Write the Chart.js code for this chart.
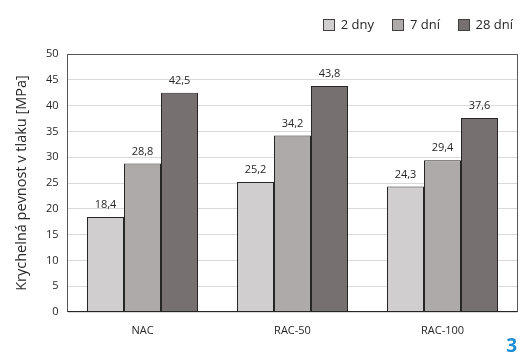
<!DOCTYPE html>
<html>
<head>
<meta charset="utf-8">
<script src="https://cdn.jsdelivr.net/npm/chart.js@4/dist/chart.umd.min.js"></script>
<style>
  html, body { margin: 0; padding: 0; background: #ffffff; }
  #wrap { width: 522px; height: 354px; position: relative; }
</style>
</head>
<body>
<div id="wrap"><canvas id="c" width="522" height="354"></canvas></div>
<script>
// Compressive strength of concrete mixes after 2, 7 and 28 days
const categories = ['NAC', 'RAC-50', 'RAC-100'];
const seriesNames = ['2 dny', '7 dní', '28 dní'];
const strength2d = [18.4, 25.2, 24.3];
const strength7d = [28.8, 34.2, 29.4];
const strength28d = [42.5, 43.8, 37.6];
const yTicks = [0, 5, 10, 15, 20, 25, 30, 35, 40, 45, 50];

const fills = ['#d0cecf', '#aeaaa9', '#767170'];
const FONT = '"Open Sans", sans-serif';
const TEXT = '#262626';

const fmt = v => v.toFixed(1).replace('.', ',');

// frame around the plotting area (left/right already sit on half pixels)
const frame = {
  id: 'frame',
  afterDatasetsDraw(chart) {
    const { ctx, chartArea: a } = chart;
    const top = Math.round(a.top) + 0.5;
    const bottom = Math.round(a.bottom) - 0.5;
    ctx.save();
    ctx.strokeStyle = '#595959';
    ctx.lineWidth = 1;
    ctx.strokeRect(a.left, top, a.right - a.left, bottom - top);
    ctx.strokeStyle = '#262626';
    ctx.beginPath();
    ctx.moveTo(a.left, bottom);
    ctx.lineTo(a.right, bottom);
    ctx.stroke();
    ctx.restore();
  }
};

// value labels above each bar
const valueLabels = {
  id: 'valueLabels',
  afterDatasetsDraw(chart) {
    const { ctx } = chart;
    ctx.save();
    ctx.font = '11px ' + FONT;
    ctx.fillStyle = TEXT;
    ctx.textAlign = 'center';
    ctx.textBaseline = 'middle';
    chart.data.datasets.forEach((ds, i) => {
      chart.getDatasetMeta(i).data.forEach((bar, j) => {
        ctx.fillText(fmt(ds.data[j]), bar.x, bar.y - 12);
      });
    });
    ctx.restore();
  }
};

// series key, laid out right to left in the top margin
const seriesKey = {
  id: 'seriesKey',
  afterDraw(chart) {
    const { ctx } = chart;
    ctx.save();
    ctx.font = '13px ' + FONT;
    ctx.textBaseline = 'middle';
    ctx.textAlign = 'left';
    const box = 12, gapText = 6, gapItem = 18, cy = 25;
    let x = 513;
    const items = chart.data.datasets.map(ds => ({ text: ds.label, fill: ds.backgroundColor }));
    for (let i = items.length - 1; i >= 0; i--) {
      const w = ctx.measureText(items[i].text).width;
      const tx = x - w;
      const bx = Math.round(tx - gapText - box);
      ctx.fillStyle = items[i].fill;
      ctx.fillRect(bx, cy - 6, box, box);
      ctx.strokeStyle = '#404040';
      ctx.lineWidth = 1;
      ctx.strokeRect(bx + 0.5, cy - 5.5, box - 1, box - 1);
      ctx.fillStyle = TEXT;
      ctx.fillText(items[i].text, tx, cy);
      x = bx - gapItem;
    }
    ctx.restore();
  }
};

// page number in the corner
const pageMark = {
  id: 'pageMark',
  afterDraw(chart) {
    const { ctx } = chart;
    ctx.save();
    ctx.font = 'bold 19px ' + FONT;
    ctx.fillStyle = '#1d8ed3';
    ctx.textAlign = 'right';
    ctx.textBaseline = 'alphabetic';
    ctx.fillText('3', 517, 352);
    ctx.restore();
  }
};

new Chart(document.getElementById('c'), {
  type: 'bar',
  data: {
    labels: categories,
    datasets: [strength2d, strength7d, strength28d].map((d, i) => ({
      label: seriesNames[i],
      data: d,
      backgroundColor: fills[i],
      borderColor: '#262626',
      borderWidth: 1,
      borderSkipped: 'bottom',
      barPercentage: 1,
      categoryPercentage: 0.74
    }))
  },
  options: {
    responsive: false,
    animation: false,
    devicePixelRatio: 1,
    layout: { padding: { left: 0, right: 4.5, top: 54, bottom: 0 } },
    plugins: {
      legend: { display: false },
      tooltip: { enabled: false }
    },
    scales: {
      x: {
        grid: { display: false, drawTicks: false },
        border: { display: false },
        ticks: { font: { family: FONT, size: 11 }, color: TEXT, padding: 12 },
        afterFit(s) { s.height = 42; }
      },
      y: {
        min: 0,
        max: 50,
        afterBuildTicks(s) { s.ticks = yTicks.map(v => ({ value: v })); },
        grid: { color: '#d9d9d9', drawTicks: false },
        border: { display: false },
        ticks: { font: { family: FONT, size: 11 }, color: TEXT, padding: 9 },
        title: {
          display: true,
          text: 'Krychelná pevnost v tlaku [MPa]',
          font: { family: FONT, size: 14.5 },
          color: TEXT,
          padding: { top: 13, bottom: 2 }
        },
        afterFit(s) { s.width = 67.5; }
      }
    }
  },
  plugins: [frame, valueLabels, seriesKey, pageMark]
});
</script>
</body>
</html>
